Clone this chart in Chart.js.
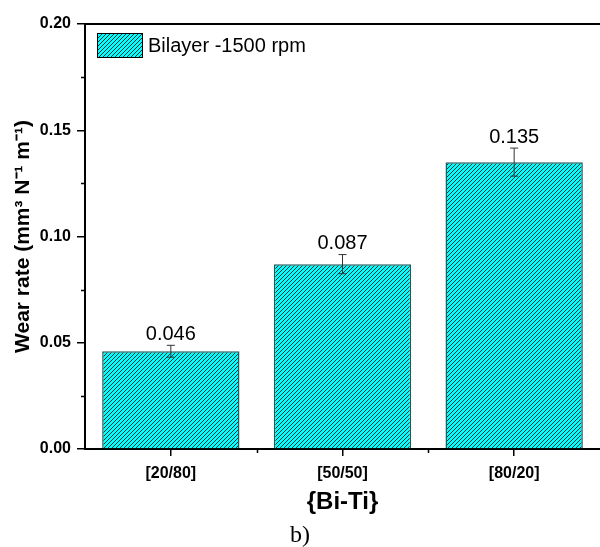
<!DOCTYPE html>
<html>
<head>
<meta charset="utf-8">
<script src="https://cdn.jsdelivr.net/npm/chart.js@4.4.1/dist/chart.umd.min.js"></script>
<style>
  html, body { margin: 0; padding: 0; background: #fff; }
  #wrap { width: 600px; height: 547px; }
</style>
</head>
<body>
<div id="wrap"><canvas id="chartWear" width="600" height="547"></canvas></div>
<script>
// datos
const categorias = ['[20/80]', '[50/50]', '[80/20]'];
const wearRate = [0.046, 0.087, 0.135];
const errores = [0.0028, 0.0045, 0.0066];
const etiquetas = ['0.046', '0.087', '0.135'];
const serieNombre = 'Bilayer -1500 rpm';
const yTicks = [0, 0.05, 0.10, 0.15, 0.20];
const yMinor = [0.025, 0.075, 0.125, 0.175];

function hacerPatron() {
  const c = document.createElement('canvas');
  c.width = 4; c.height = 4;
  const g = c.getContext('2d');
  g.fillStyle = '#00ffff';
  g.fillRect(0, 0, 4, 4);
  g.strokeStyle = '#102828';
  g.lineWidth = 0.95;
  g.beginPath();
  g.moveTo(-1, 5); g.lineTo(5, -1);
  g.moveTo(-3, 3); g.lineTo(3, -3);
  g.moveTo(1, 7); g.lineTo(7, 1);
  g.stroke();
  return document.getElementById('chartWear').getContext('2d').createPattern(c, 'repeat');
}
const patron = hacerPatron();

const extras = {
  id: 'extras',
  afterDatasetsDraw(chart) {
    const ctx = chart.ctx;
    const y = chart.scales.y;
    const x = chart.scales.x;
    const area = chart.chartArea;
    const meta = chart.getDatasetMeta(0);
    ctx.save();
    // barras de error y etiquetas
    meta.data.forEach((bar, i) => {
      const top = y.getPixelForValue(wearRate[i] + errores[i]);
      const bot = y.getPixelForValue(wearRate[i] - errores[i]);
      ctx.strokeStyle = '#333';
      ctx.lineWidth = 1;
      ctx.beginPath();
      ctx.moveTo(bar.x, top); ctx.lineTo(bar.x, bot);
      ctx.moveTo(bar.x - 4, top); ctx.lineTo(bar.x + 4, top);
      ctx.moveTo(bar.x - 4, bot); ctx.lineTo(bar.x + 4, bot);
      ctx.stroke();
      ctx.fillStyle = '#000';
      ctx.font = '20px "Liberation Sans", Arial, sans-serif';
      ctx.textAlign = 'center';
      ctx.textBaseline = 'middle';
      ctx.fillText(etiquetas[i], bar.x, top - 11);
    });
    // linea superior
    ctx.strokeStyle = '#000';
    ctx.lineWidth = 2;
    ctx.beginPath();
    ctx.moveTo(area.left, area.top); ctx.lineTo(area.right, area.top);
    ctx.stroke();
    // ticks menores
    ctx.lineWidth = 1.5;
    ctx.beginPath();
    yMinor.forEach(v => {
      const py = Math.round(y.getPixelForValue(v)) + 0.5;
      ctx.moveTo(area.left - 4, py); ctx.lineTo(area.left, py);
    });
    for (let i = 1; i < categorias.length; i++) {
      const px = Math.round((x.getPixelForValue(i - 1) + x.getPixelForValue(i)) / 2) + 0.5;
      ctx.moveTo(px, area.bottom); ctx.lineTo(px, area.bottom + 4);
    }
    ctx.stroke();
    // leyenda
    ctx.fillStyle = patron;
    ctx.fillRect(97, 33, 45, 24);
    ctx.strokeStyle = '#000';
    ctx.lineWidth = 1;
    ctx.strokeRect(97.5, 33.5, 45, 24);
    ctx.fillStyle = '#000';
    ctx.font = '20px "Liberation Sans", Arial, sans-serif';
    ctx.textAlign = 'left';
    ctx.textBaseline = 'middle';
    ctx.fillText(serieNombre, 148, 46);
    // b)
    ctx.font = '24px "Liberation Serif", "DejaVu Serif", serif';
    ctx.textAlign = 'center';
    ctx.fillText('b)', 300, 536);
    ctx.restore();
  }
};

new Chart(document.getElementById('chartWear'), {
  type: 'bar',
  data: {
    labels: categorias,
    datasets: [{
      label: serieNombre,
      data: wearRate,
      backgroundColor: patron,
      borderColor: '#1f5c5c',
      borderWidth: 1.5,
      categoryPercentage: 1.0,
      barPercentage: 0.8
    }]
  },
  options: {
    responsive: false,
    animation: false,
    devicePixelRatio: 1,
    layout: { padding: { top: 24, left: 0, right: 0, bottom: 0 } },
    plugins: { legend: { display: false }, tooltip: { enabled: false } },
    scales: {
      y: {
        min: 0, max: 0.2,
        afterBuildTicks: s => { s.ticks = yTicks.map(v => ({ value: v })); },
        afterFit: s => { s.width = 85; },
        ticks: {
          callback: v => Number(v).toFixed(2),
          color: '#000',
          padding: 6,
          font: { family: '"Liberation Sans", Arial, sans-serif', size: 16, weight: 'bold' }
        },
        grid: { drawOnChartArea: false, drawTicks: true, tickLength: 8, color: '#000', lineWidth: 1.5 },
        border: { color: '#000', width: 2 },
        title: {
          display: true,
          text: 'Wear rate (mm³ N⁻¹ m⁻¹)',
          color: '#000',
          padding: { top: 11 },
          font: { family: '"Liberation Sans", Arial, sans-serif', size: 21, weight: 'bold' }
        }
      },
      x: {
        afterFit: s => { s.height = 98; },
        ticks: {
          color: '#000',
          padding: 8,
          font: { family: '"Liberation Sans", Arial, sans-serif', size: 16, weight: 'bold' }
        },
        grid: { offset: false, drawOnChartArea: false, drawTicks: true, tickLength: 7, color: '#000', lineWidth: 1.5 },
        border: { color: '#000', width: 2 },
        title: {
          display: true,
          text: '{Bi-Ti}',
          color: '#000',
          padding: { top: 0, bottom: 30 },
          font: { family: '"Liberation Sans", Arial, sans-serif', size: 24, weight: 'bold' }
        }
      }
    }
  },
  plugins: [extras]
});
</script>
</body>
</html>
